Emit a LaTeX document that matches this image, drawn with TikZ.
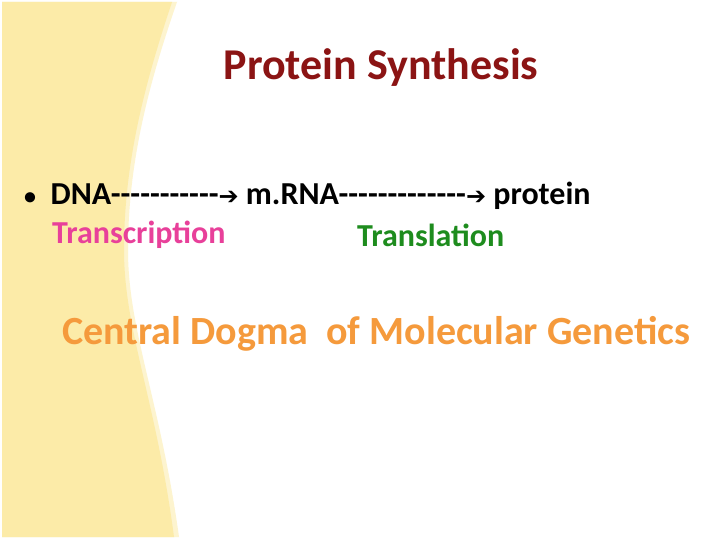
\documentclass[tikz,border=0pt]{standalone}
\usepackage{fontspec}
\setmainfont{Carlito}
\newfontfamily\dv{DejaVu Sans}
\definecolor{band}{HTML}{FCEBA8}
\definecolor{bandlite}{HTML}{FDF4CF}
\definecolor{ttl}{HTML}{8B1414}
\definecolor{pinkc}{HTML}{E8409A}
\definecolor{greenc}{HTML}{1E8C1E}
\definecolor{orangec}{HTML}{F59A3C}
\newcommand\myarr{{\dv\fontsize{24}{28}\selectfont ➔}}
\begin{document}
\begin{tikzpicture}[x=1pt,y=-1pt,
  txt/.style={inner sep=0pt,anchor=west,font=\bfseries\fontsize{32}{38}\selectfont}]
\useasboundingbox (0,0) rectangle (720,540);
\fill[white] (0,0) rectangle (720,540);
\fill[bandlite] (2,2) -- (177,2) .. controls (150,80) and (128,160) .. (128,250)
  .. controls (128,330) and (160,400) .. (179,537) -- (2,537) -- cycle;
\fill[band] (2,2) -- (172,2) .. controls (146,80) and (124,160) .. (124,250)
  .. controls (124,330) and (156,400) .. (174,537) -- (2,537) -- cycle;
\node[inner sep=0pt,font=\bfseries\fontsize{44}{50}\selectfont,text=ttl] (title) at (381,68) {Protein Synthesis};
\node[txt] (line) at (24,196) {{\fontsize{24}{28}\selectfont\textbullet}\ \ DNA-{}-{}-{}-{}-{}-{}-{}-{}-{}-{}-\myarr\ m.RNA-{}-{}-{}-{}-{}-{}-{}-{}-{}-{}-{}-{}-\myarr\ protein};
\node[txt,text=pinkc] (tr) at (52,235) {Transcription};
\node[txt,text=greenc] (tl) at (357,235) {Translation};
\node[txt,font=\bfseries\fontsize{40}{46}\selectfont,text=orangec] (cd) at (62,334) {Central Dogma\ \ of Molecular Genetics};
\end{tikzpicture}
\end{document}
